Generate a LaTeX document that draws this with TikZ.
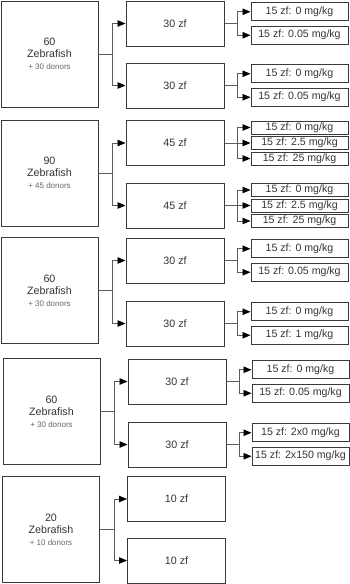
\documentclass[tikz,border=0pt]{standalone}
\usepackage{fontspec}
\setmainfont{Liberation Sans}
\usepackage{tikz}
\usetikzlibrary{arrows.meta}
\definecolor{boxline}{HTML}{3A3A3A}
\definecolor{wireline}{HTML}{5C5C5C}
\definecolor{txtgray}{HTML}{333333}
\definecolor{donorgray}{HTML}{666666}
\newcommand{\zfgroup}[2]{#1\\Zebrafish\\{\fontsize{8}{9}\selectfont\color{donorgray}+ #2 donors}}

\tikzset{
  bigbox/.style={draw=boxline, line width=1pt, minimum width=97pt, minimum height=106pt,
    inner sep=0pt, align=center, text=txtgray, font=\fontsize{10.7}{12}\selectfont},
  midbox/.style={draw=boxline, line width=1pt, minimum width=98pt, minimum height=45pt,
    inner sep=0pt, text=txtgray, font=\fontsize{10.7}{12}\selectfont},
  dosebox/.style={draw=boxline, line width=1pt, minimum width=97pt, minimum height=18pt,
    inner sep=0pt, text=txtgray, font=\fontsize{10.6}{12}\selectfont},
  dosethin/.style={dosebox, minimum height=13pt},
  wire/.style={draw=wireline, line width=0.8pt, -{Triangle[length=8pt,width=6.5pt,color=black]}}
}

\begin{document}
\begin{tikzpicture}[x=1pt,y=-1pt]
  \useasboundingbox (0,0) rectangle (350,584);
  % group 1
  \node[bigbox] (g1) at (49.5,54) {\zfgroup{60}{30}};
  \node[midbox] (g1a) at (175,23.5) {30 zf};
  \node[midbox] (g1b) at (175,85.5) {30 zf};
  \node[dosebox] (s1a1) at (299.5,11.75) {15 zf: 0 mg/kg};
  \node[dosebox] (s1a2) at (299.5,35.25) {15 zf: 0.05 mg/kg};
  \node[dosebox] (s1b1) at (299.5,73.75) {15 zf: 0 mg/kg};
  \node[dosebox] (s1b2) at (299.5,97.25) {15 zf: 0.05 mg/kg};
  \draw[wire] (g1.east) -- ++(14,0) |- (g1a.west);
  \draw[wire] (g1.east) -- ++(14,0) |- (g1b.west);
  \draw[wire] (g1a.east) -- ++(13,0) |- (s1a1.west);
  \draw[wire] (g1a.east) -- ++(13,0) |- (s1a2.west);
  \draw[wire] (g1b.east) -- ++(13,0) |- (s1b1.west);
  \draw[wire] (g1b.east) -- ++(13,0) |- (s1b2.west);
  % group 2
  \node[bigbox] (g2) at (49.5,173) {\zfgroup{90}{45}};
  \node[midbox] (g2a) at (175,143) {45 zf};
  \node[midbox] (g2b) at (175,205.5) {45 zf};
  \node[dosethin] (s2a1) at (299.5,127.5) {15 zf: 0 mg/kg};
  \node[dosethin] (s2a2) at (299.5,143) {15 zf: 2.5 mg/kg};
  \node[dosethin] (s2a3) at (299.5,158.5) {15 zf: 25 mg/kg};
  \node[dosethin] (s2b1) at (299.5,190) {15 zf: 0 mg/kg};
  \node[dosethin] (s2b2) at (299.5,205.5) {15 zf: 2.5 mg/kg};
  \node[dosethin] (s2b3) at (299.5,221) {15 zf: 25 mg/kg};
  \draw[wire] (g2.east) -- ++(14,0) |- (g2a.west);
  \draw[wire] (g2.east) -- ++(14,0) |- (g2b.west);
  \draw[wire] (g2a.east) -- ++(13,0) |- (s2a1.west);
  \draw[wire] (g2a.east) -- (s2a2.west);
  \draw[wire] (g2a.east) -- ++(13,0) |- (s2a3.west);
  \draw[wire] (g2b.east) -- ++(13,0) |- (s2b1.west);
  \draw[wire] (g2b.east) -- (s2b2.west);
  \draw[wire] (g2b.east) -- ++(13,0) |- (s2b3.west);
  % group 3
  \node[bigbox] (g3) at (49.5,290.5) {\zfgroup{60}{30}};
  \node[midbox] (g3a) at (175,260.5) {30 zf};
  \node[midbox] (g3b) at (175,323.5) {30 zf};
  \node[dosebox] (s3a1) at (299.5,248.75) {15 zf: 0 mg/kg};
  \node[dosebox] (s3a2) at (299.5,272.25) {15 zf: 0.05 mg/kg};
  \node[dosebox] (s3b1) at (299.5,311.75) {15 zf: 0 mg/kg};
  \node[dosebox] (s3b2) at (299.5,335.25) {15 zf: 1 mg/kg};
  \draw[wire] (g3.east) -- ++(14,0) |- (g3a.west);
  \draw[wire] (g3.east) -- ++(14,0) |- (g3b.west);
  \draw[wire] (g3a.east) -- ++(13,0) |- (s3a1.west);
  \draw[wire] (g3a.east) -- ++(13,0) |- (s3a2.west);
  \draw[wire] (g3b.east) -- ++(13,0) |- (s3b1.west);
  \draw[wire] (g3b.east) -- ++(13,0) |- (s3b2.west);
  % group 4
  \node[bigbox] (g4) at (51.5,411.5) {\zfgroup{60}{30}};
  \node[midbox] (g4a) at (177,381.5) {30 zf};
  \node[midbox] (g4b) at (177,444.5) {30 zf};
  \node[dosebox] (s4a1) at (300.5,369.75) {15 zf: 0 mg/kg};
  \node[dosebox] (s4a2) at (300.5,393.25) {15 zf: 0.05 mg/kg};
  \node[dosebox] (s4b1) at (300.5,432.75) {15 zf: 2x0 mg/kg};
  \node[dosebox] (s4b2) at (300.5,456.25) {15 zf: 2x150 mg/kg};
  \draw[wire] (g4.east) -- ++(14,0) |- (g4a.west);
  \draw[wire] (g4.east) -- ++(14,0) |- (g4b.west);
  \draw[wire] (g4a.east) -- ++(13,0) |- (s4a1.west);
  \draw[wire] (g4a.east) -- ++(13,0) |- (s4a2.west);
  \draw[wire] (g4b.east) -- ++(13,0) |- (s4b1.west);
  \draw[wire] (g4b.east) -- ++(13,0) |- (s4b2.west);
  % group 5
  \node[bigbox] (g5) at (51,529.5) {\zfgroup{20}{10}};
  \node[midbox] (g5a) at (176.5,499) {10 zf};
  \node[midbox] (g5b) at (176.5,560.5) {10 zf};
  \draw[wire] (g5.east) -- ++(14,0) |- (g5a.west);
  \draw[wire] (g5.east) -- ++(14,0) |- (g5b.west);
\end{tikzpicture}
\end{document}
